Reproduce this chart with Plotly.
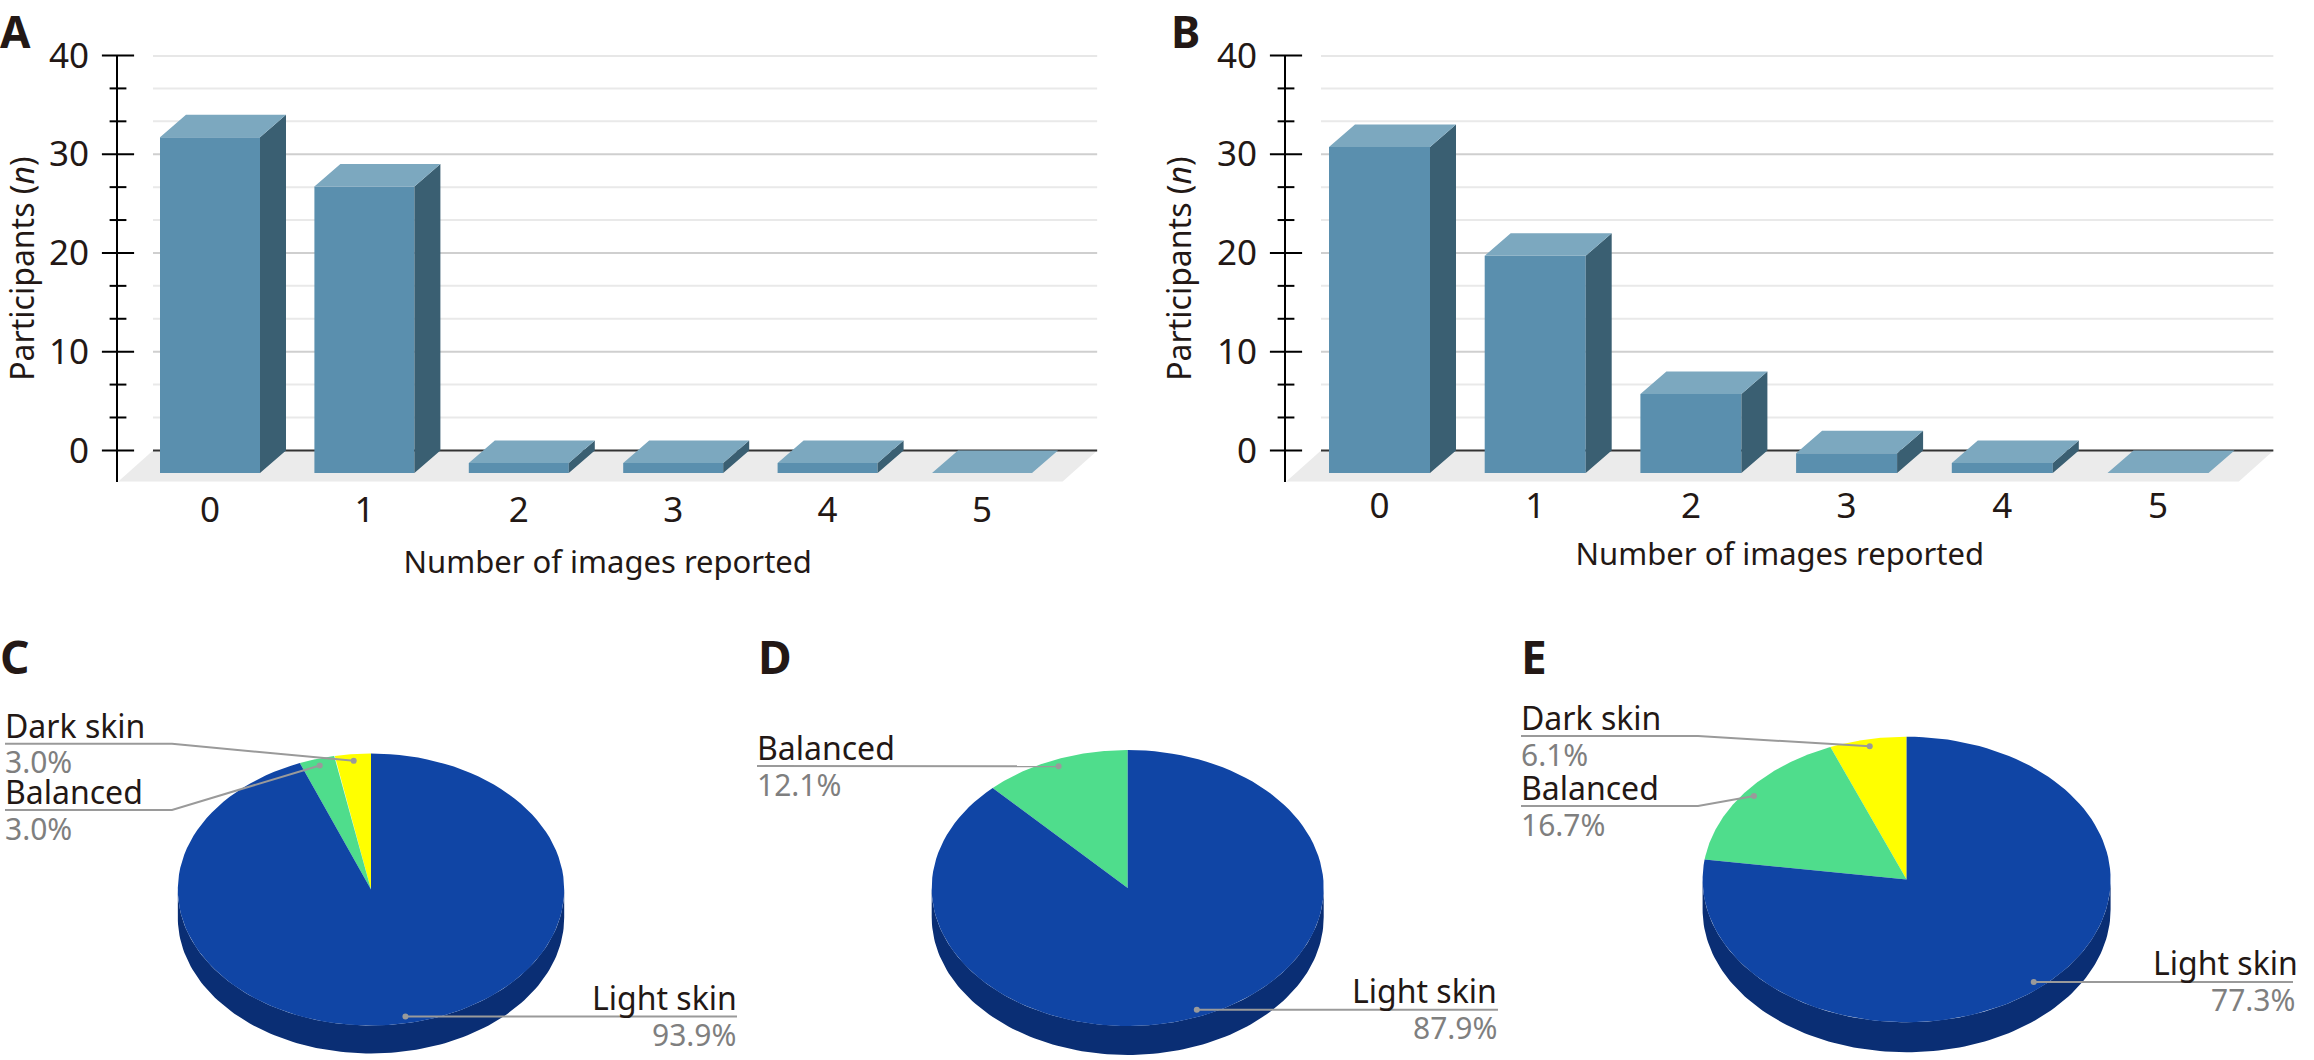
import math
import plotly.graph_objects as go

W, H = 2314, 1060

# ---- data ----
IMAGE_COUNTS = ["0", "1", "2", "3", "4", "5"]
PARTICIPANTS_A = [34, 29, 1, 1, 1, 0]
PARTICIPANTS_B = [33, 22, 8, 2, 1, 0]
Y_MAJOR = [0, 10, 20, 30, 40]
X_TITLE = "Number of images reported"
Y_TITLE = "Participants (<i>n</i>)"

SLICE_NAMES_C = ["Dark skin", "Balanced", "Light skin"]
SHARES_C = [3.0, 3.0, 93.9]
SLICE_NAMES_D = ["Balanced", "Light skin"]
SHARES_D = [12.1, 87.9]
SLICE_NAMES_E = ["Dark skin", "Balanced", "Light skin"]
SHARES_E = [6.1, 16.7, 77.3]

# ---- styles ----
FONT = "Noto Sans"
INK = "#231815"
GREY = "#7f7f7f"
LEADER = "#9a9a9a"
FRONT, SIDE, TOP = "#5a8fae", "#3a5f72", "#7ca8bf"
FLOOR = "#ebebeb"
PIE_COLORS = {"Dark skin": "#ffff00", "Balanced": "#4fdd8c", "Light skin": "#1045a5"}
PIE_SIDE = "#0a2e74"

Y_TOP_PX, Y_ZERO_PX, Y_BOT_PX = 55.5, 450.4, 481.7
PX_PER_UNIT = (Y_ZERO_PX - Y_TOP_PX) / 40
Y_MIN = (Y_ZERO_PX - Y_BOT_PX) / PX_PER_UNIT
DEPTH_Y = 22.5 / PX_PER_UNIT

fig = go.Figure()
shapes = []


def bar_panel(n, values, axis_px, right_px, centre0_px, step_px, bar_px, label_standoff, title_standoff, ytitle_standoff):
    suffix = "" if n == 1 else str(n)
    xa, ya = "x" + suffix, "y" + suffix
    xmin = (axis_px - centre0_px) / step_px
    xmax = (right_px - centre0_px) / step_px
    dx = 26 / step_px
    floor_dx = 35 / step_px
    w = bar_px / step_px
    fig.update_layout({
        "xaxis" + suffix: dict(
            domain=[axis_px / W, right_px / W], range=[xmin, xmax], anchor=ya,
            tickvals=list(range(len(IMAGE_COUNTS))), ticktext=IMAGE_COUNTS,
            showgrid=False, zeroline=False, showline=False, ticks="",
            ticklabelstandoff=label_standoff,
            tickfont=dict(family=FONT, size=35, color=INK),
            title=dict(text=X_TITLE, standoff=title_standoff, font=dict(family=FONT, size=31, color=INK)),
        ),
        "yaxis" + suffix: dict(
            domain=[1 - Y_BOT_PX / H, 1 - Y_TOP_PX / H], range=[Y_MIN, 40], anchor=xa,
            tickvals=Y_MAJOR, showgrid=False, zeroline=False, ticks="",
            showline=True, linecolor="#000000", linewidth=2,
            ticklabelstandoff=20,
            tickfont=dict(family=FONT, size=35, color=INK),
            title=dict(text=Y_TITLE, standoff=ytitle_standoff, font=dict(family=FONT, size=32, color=INK)),
        ),
    })
    # floor and wall lines, drawn under the marks
    shapes.append(dict(type="path", layer="below", xref=xa, yref=ya, line_width=0, fillcolor=FLOOR,
                       path=f"M{xmin},{Y_MIN} L{xmax - floor_dx},{Y_MIN} L{xmax},0 L{xmin + floor_dx},0 Z"))
    minor = [i * 10 / 3 for i in range(1, 12) if i % 3]
    for v in minor:
        shapes.append(dict(type="line", layer="below", xref=xa, yref=ya, x0=xmin + floor_dx, x1=xmax, y0=v, y1=v,
                           line=dict(color="#e9e9e9", width=2)))
    for v in Y_MAJOR[1:]:
        shapes.append(dict(type="line", layer="below", xref=xa, yref=ya, x0=xmin + floor_dx, x1=xmax, y0=v, y1=v,
                           line=dict(color="#cfcfcf", width=2)))
    shapes.append(dict(type="line", layer="below", xref=xa, yref=ya, x0=xmin + floor_dx, x1=xmax, y0=0, y1=0,
                       line=dict(color="#333333", width=2)))

    xs = list(range(len(values)))
    fig.add_trace(go.Bar(x=xs, y=values, base=-DEPTH_Y, width=w, xaxis=xa, yaxis=ya,
                         marker=dict(color=FRONT, line=dict(width=0)), showlegend=False, hoverinfo="y"))
    sx, sy, tx, ty = [], [], [], []
    for x, v in zip(xs, values):
        r, l = x + w / 2, x - w / 2
        if v > 0:
            sx += [r, r + dx, r + dx, r, None]
            sy += [-DEPTH_Y, 0, v, v - DEPTH_Y, None]
        tx += [l, r, r + dx, l + dx, None]
        ty += [v - DEPTH_Y, v - DEPTH_Y, v, v, None]
    for px_, py_, col in ((sx, sy, SIDE), (tx, ty, TOP)):
        fig.add_trace(go.Scatter(x=px_, y=py_, mode="lines", fill="toself", fillcolor=col, line=dict(width=0),
                                 xaxis=xa, yaxis=ya, showlegend=False, hoverinfo="skip"))
    # crossing tick marks on the axis
    fig.add_trace(go.Scatter(x=[xmin] * 5, y=Y_MAJOR, mode="markers", xaxis=xa, yaxis=ya, cliponaxis=False,
                             marker=dict(symbol="line-ew", size=23, line=dict(color="#000", width=2)),
                             showlegend=False, hoverinfo="skip"))
    fig.add_trace(go.Scatter(x=[xmin] * len(minor), y=minor, mode="markers", xaxis=xa, yaxis=ya, cliponaxis=False,
                             marker=dict(symbol="line-ew", size=12, line=dict(color="#000", width=2)),
                             showlegend=False, hoverinfo="skip"))


bar_panel(1, PARTICIPANTS_A, 118, 1097.4, 210, 154.4, 100, 4, 20, 16)
bar_panel(2, PARTICIPANTS_B, 1286, 2273.6, 1379.5, 155.7, 101, 0, 16, 16)

# overlay axes in image pixels for the pies and their labels
fig.update_layout(
    xaxis3=dict(domain=[0, 1], range=[0, W], anchor="y3", visible=False, fixedrange=True),
    yaxis3=dict(domain=[0, 1], range=[H, 0], anchor="x3", visible=False, fixedrange=True),
)
annotations = []


def text(x, y, s, size=32, color=INK, anchor="left", bold=False):
    annotations.append(dict(xref="x3", yref="y3", x=x, y=y, text=f"<b>{s}</b>" if bold else s, showarrow=False,
                            xanchor=anchor, yanchor="middle", borderpad=0, borderwidth=0,
                            font=dict(family=FONT, size=size, color=color)))


def poly(xs, ys, color):
    fig.add_trace(go.Scatter(x=xs, y=ys, mode="lines", fill="toself", fillcolor=color, line=dict(width=0),
                             xaxis="x3", yaxis="y3", showlegend=False, hoverinfo="skip"))


def pie_panel(names, shares, cx, cy, rx, ry, depth, left_slots, right_x, name_right_x, pct_right_x):
    pt = lambda deg, r=1.0: (cx + r * rx * math.sin(math.radians(deg)), cy - r * ry * math.cos(math.radians(deg)))
    arc = lambda a, b: [pt(a + (b - a) * i / 120) for i in range(121)]
    # rim
    lower = arc(90, 270)
    poly([p[0] for p in lower] + [p[0] for p in reversed(lower)],
         [p[1] + depth for p in lower] + [p[1] for p in reversed(lower)], PIE_SIDE)
    total = sum(shares)
    a = 0.0
    for name, share, in zip(names, shares):
        b = a - 360 * share / total
        pts = [(cx, cy)] + arc(a, b) + [(cx, cy)]
        poly([p[0] for p in pts], [p[1] for p in pts], PIE_COLORS[name])
        a = b
    a = 0.0
    slots = iter(left_slots)
    for name, share in zip(names, shares):
        b = a - 360 * share / total
        ax, ay = pt((a + b) / 2, 0.95)
        pct = f"{share:.1f}%"
        if name == "Light skin":
            lx, ly = [ax, right_x], [ay, ay]
            text(name_right_x, ay - 19, name, anchor="right")
            text(pct_right_x, ay + 18, pct, size=30, color=GREY, anchor="right")
        else:
            left, line_y, elbow = next(slots)
            lx, ly = [left, elbow, ax] if elbow else [left, ax], [line_y, line_y, ay] if elbow else [line_y, ay]
            text(left, line_y - 18.5, name)
            text(left, line_y + 18, pct, size=30, color=GREY)
        fig.add_trace(go.Scatter(x=lx, y=ly, mode="lines", line=dict(color=LEADER, width=2),
                                 xaxis="x3", yaxis="y3", showlegend=False, hoverinfo="skip"))
        fig.add_trace(go.Scatter(x=[ax], y=[ay], mode="markers", marker=dict(color=LEADER, size=6),
                                 xaxis="x3", yaxis="y3", showlegend=False, hoverinfo="skip"))
        a = b


pie_panel(SLICE_NAMES_C, SHARES_C, 371, 889.5, 193.2, 136, 28, [(5, 743.7, 172), (5, 810, 172)], 737, 737, 736)
pie_panel(SLICE_NAMES_D, SHARES_D, 1127.7, 888, 196, 138, 29, [(757, 766, None)], 1498, 1497, 1497)
pie_panel(SLICE_NAMES_E, SHARES_E, 1906.6, 879.5, 204, 142.8, 30, [(1521, 736, 1698), (1521, 806, 1698)], 2293, 2298, 2295)

for letter, x, y, size in (("A", 0, 31, 44), ("B", 1171, 31, 44), ("C", 0, 656, 46), ("D", 758, 656, 46), ("E", 1521, 656, 46)):
    text(x, y, letter, size=size, anchor="left", bold=True)

fig.update_layout(
    width=W, height=H, margin=dict(l=0, r=0, t=0, b=0, autoexpand=False), autosize=False,
    paper_bgcolor="#ffffff", plot_bgcolor="rgba(0,0,0,0)", showlegend=False,
    shapes=shapes, annotations=annotations,
)
fig.write_html("out.html", config={"displayModeBar": False},
               post_script="document.body.style.margin='0';document.body.style.overflow='hidden';")
